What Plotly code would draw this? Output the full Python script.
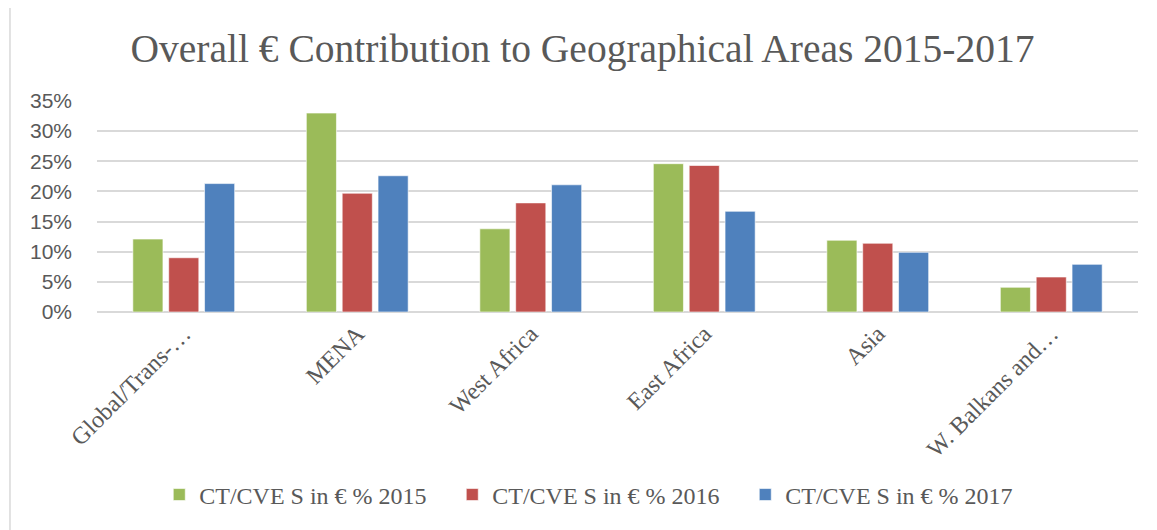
import plotly.graph_objects as go

categories = ["Global/Trans-…", "MENA", "West Africa", "East Africa", "Asia", "W. Balkans and…"]
series_names = ["CT/CVE S in € % 2015", "CT/CVE S in € % 2016", "CT/CVE S in € % 2017"]
v2015 = [0.121, 0.330, 0.138, 0.246, 0.119, 0.041]
v2016 = [0.090, 0.197, 0.181, 0.243, 0.114, 0.058]
v2017 = [0.213, 0.226, 0.211, 0.167, 0.099, 0.079]
colors = ["#9BBB59", "#C0504D", "#4F81BD"]
tick_vals = [0, 0.05, 0.10, 0.15, 0.20, 0.25, 0.30, 0.35]

fig = go.Figure()
for name, vals, col in zip(series_names, [v2015, v2016, v2017], colors):
    fig.add_trace(go.Bar(x=categories, y=vals, name=name,
                         marker=dict(color=col, line=dict(color="rgba(255,255,255,0.6)", width=1))))

serif = "Liberation Serif"
fig.update_layout(
    width=1149, height=522,
    margin=dict(l=89, r=19, t=93, b=218),
    paper_bgcolor="white", plot_bgcolor="white",
    barmode="group", bargap=0.38, bargroupgap=0.16,
    title=dict(text="Overall € Contribution to Geographical Areas 2015-2017",
               x=0.5, xanchor="center", y=0.923, yanchor="middle",
               font=dict(family=serif, size=39.5, color="#595959")),
    legend=dict(orientation="h", x=0.482, xanchor="center", y=-0.867, yanchor="middle",
                font=dict(family=serif, size=24, color="#595959"),
                traceorder="normal", itemwidth=30, entrywidth=248, entrywidthmode="pixels"),
    yaxis=dict(range=[0, 0.35], tickvals=tick_vals, tickformat=".0%",
               showgrid=True, gridcolor="#D9D9D9", gridwidth=1.5,
               zeroline=True, zerolinecolor="#D9D9D9", zerolinewidth=1.5,
               tickfont=dict(family="Liberation Sans", size=21, color="#595959"),
               ticks="", showline=False, automargin=False, ticklabelstandoff=24),
    xaxis=dict(tickangle=-45, tickfont=dict(family=serif, size=24, color="#595959"),
               showline=False, ticks="", automargin=False, ticklabelstandoff=2),
    shapes=[dict(type="line", xref="paper", yref="paper",
                 x0=-0.0836, x1=-0.0836, y0=-1.05, y1=1.5,
                 line=dict(color="#D9D9D9", width=1.5))],
)
fig.write_html("out.html")
